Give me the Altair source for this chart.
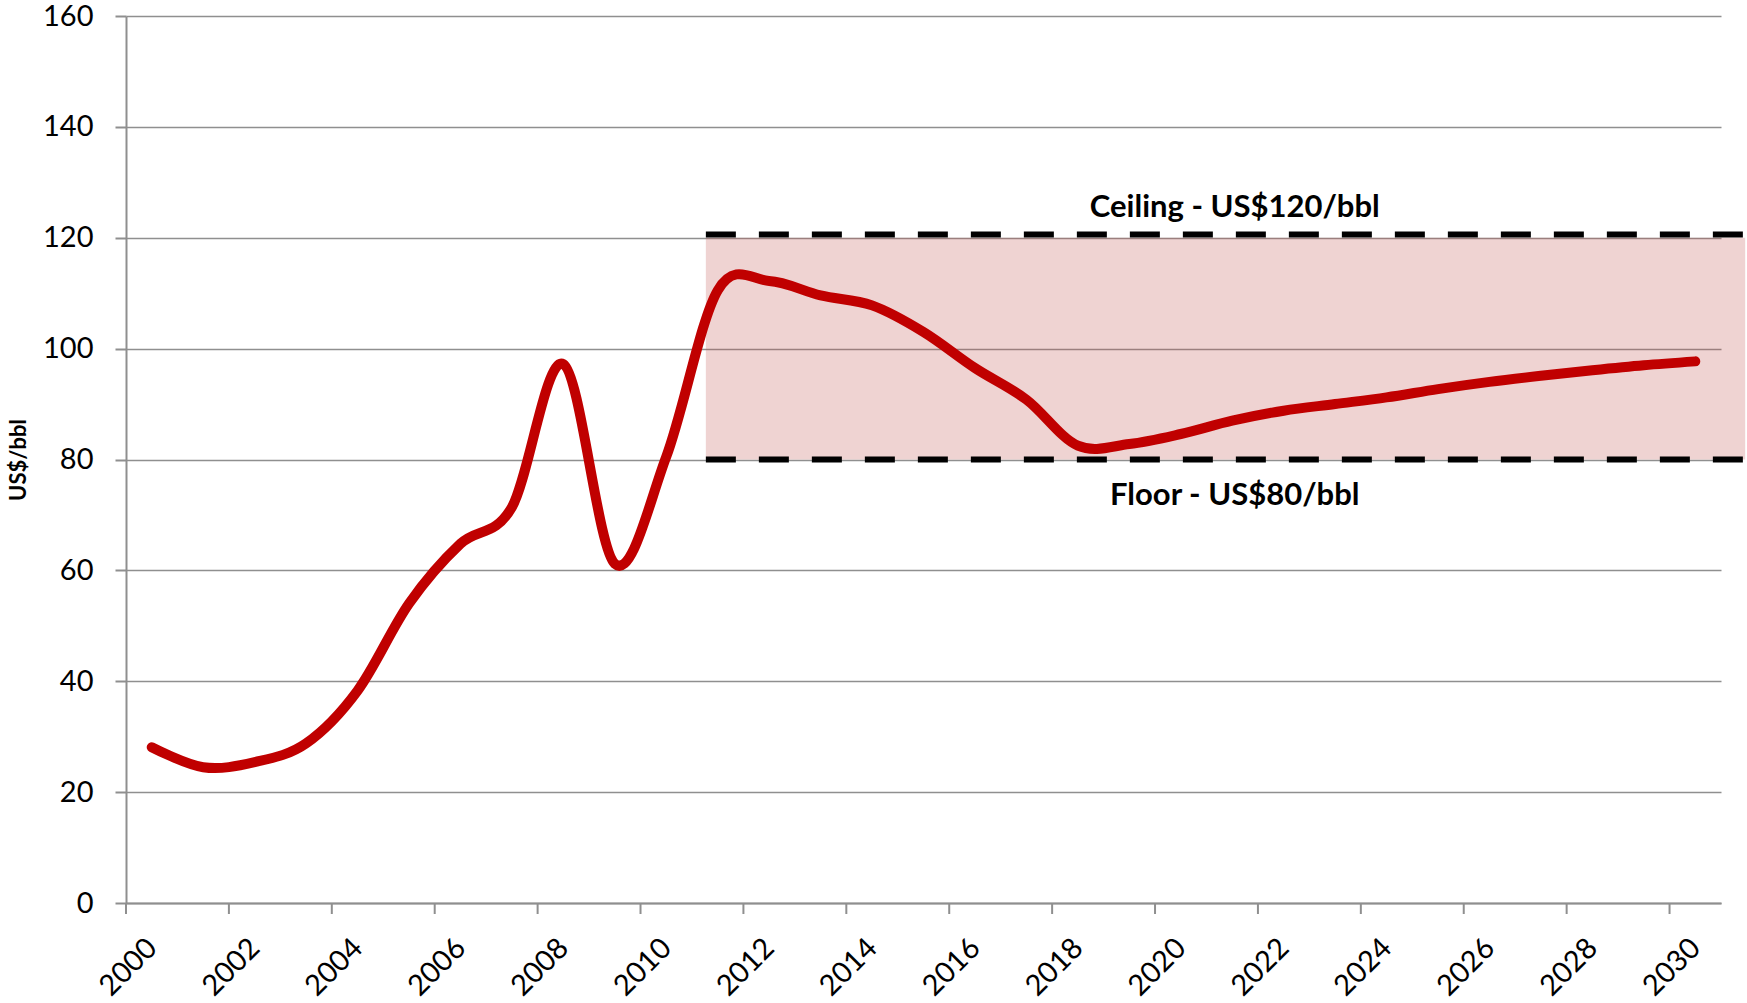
import altair as alt
import pandas as pd

# ---- data ----
years = list(range(2000, 2031))
prices = [28.1, 24.5, 25.4, 28.8, 38.3, 54.0, 64.8, 71.4, 97.2, 61.2,
          80.5, 110.5, 112.2, 109.6, 107.8, 103.0, 96.5, 90.8, 82.5, 82.8,
          84.6, 87.0, 88.8, 90.0, 91.2, 92.7, 94.0, 95.1, 96.1, 97.0, 97.7]

band_start = [2010.77]
band_end = [2030.97]
floor_vals = [80]
ceiling_vals = [120]
ceiling_line = [120.6]

label_texts = ["Ceiling - US$120/bbl", "Floor - US$80/bbl"]
label_x = [2021.05, 2021.05]
label_y = [125.3, 73.4]

x_label_years = list(range(2000, 2031, 2))
x_tick_bounds = [y - 0.5 for y in range(2000, 2031, 2)]
y_ticks = list(range(0, 161, 20))

FONT = "Lato"
GRID = "#8f8f8f"
W, H = 1595, 887

df = pd.DataFrame({"year": years, "price": prices})
band = pd.DataFrame({"x0": band_start, "x1": band_end, "lo": floor_vals, "hi": ceiling_vals})
dash_df = pd.DataFrame({"x0": band_start * 2, "x1": band_end * 2, "v": ceiling_line + floor_vals})
lab = pd.DataFrame({"x": label_x, "y": label_y, "t": label_texts})
ticks_df = pd.DataFrame({"b": x_tick_bounds})

xscale = alt.Scale(domain=[1999.5, 2030.5], nice=False, zero=False)
yscale = alt.Scale(domain=[0, 160], nice=False)

xaxis = alt.Axis(values=x_label_years, format="d", labelAngle=-45, labelAlign="right",
                 labelBaseline="middle", labelPadding=40, ticks=False, grid=False,
                 domainColor=GRID, domainWidth=2, labelFont=FONT, labelFontSize=29,
                 labelColor="black", title=None, labelFlush=False, labelOverlap=False)
yaxis = alt.Axis(values=y_ticks, grid=True, gridColor=GRID, gridWidth=1.5,
                 domainColor=GRID, domainWidth=2, tickColor=GRID, tickWidth=2, tickSize=11,
                 labelFont=FONT, labelFontSize=29, labelColor="black", labelPadding=22,
                 title="US$/bbl", titleFont=FONT, titleFontSize=22, titleFontWeight="bold",
                 titleColor="black", titleX=-108, titleY=H / 2, titleAlign="center",
                 titleBaseline="middle", titleAngle=-90)

shade = alt.Chart(band).mark_rect(color="#C0504D", opacity=0.25, clip=False).encode(
    x=alt.X("x0:Q", scale=xscale, axis=xaxis),
    x2="x1:Q",
    y=alt.Y("lo:Q", scale=yscale, axis=yaxis),
    y2="hi:Q",
)

line = alt.Chart(df).mark_line(color="#C00000", strokeWidth=10, interpolate="cardinal",
                               strokeCap="round", strokeJoin="round").encode(
    x=alt.X("year:Q", scale=xscale),
    y=alt.Y("price:Q", scale=yscale),
)

dashes = alt.Chart(dash_df).mark_rule(color="black", strokeWidth=6, strokeDash=[30, 23],
                                      clip=False).encode(
    x=alt.X("x0:Q", scale=xscale),
    x2="x1:Q",
    y=alt.Y("v:Q", scale=yscale),
)

texts = alt.Chart(lab).mark_text(font=FONT, fontSize=31, fontWeight="bold", color="black",
                                 align="center", baseline="middle").encode(
    x=alt.X("x:Q", scale=xscale),
    y=alt.Y("y:Q", scale=yscale),
    text="t:N",
)

xticks = alt.Chart(ticks_df).mark_rule(color=GRID, strokeWidth=2, clip=False).encode(
    x=alt.X("b:Q", scale=xscale),
    y=alt.value(H),
    y2=alt.value(H + 11),
)

chart = alt.layer(shade, dashes, line, texts, xticks).properties(
    width=W, height=H,
    autosize=alt.AutoSizeParams(type="none"),
    padding={"left": 126, "top": 16, "right": 26, "bottom": 100},
    background="white",
).configure_view(stroke=None)

chart.save("out.html", embed_options={"renderer": "svg", "actions": False})
